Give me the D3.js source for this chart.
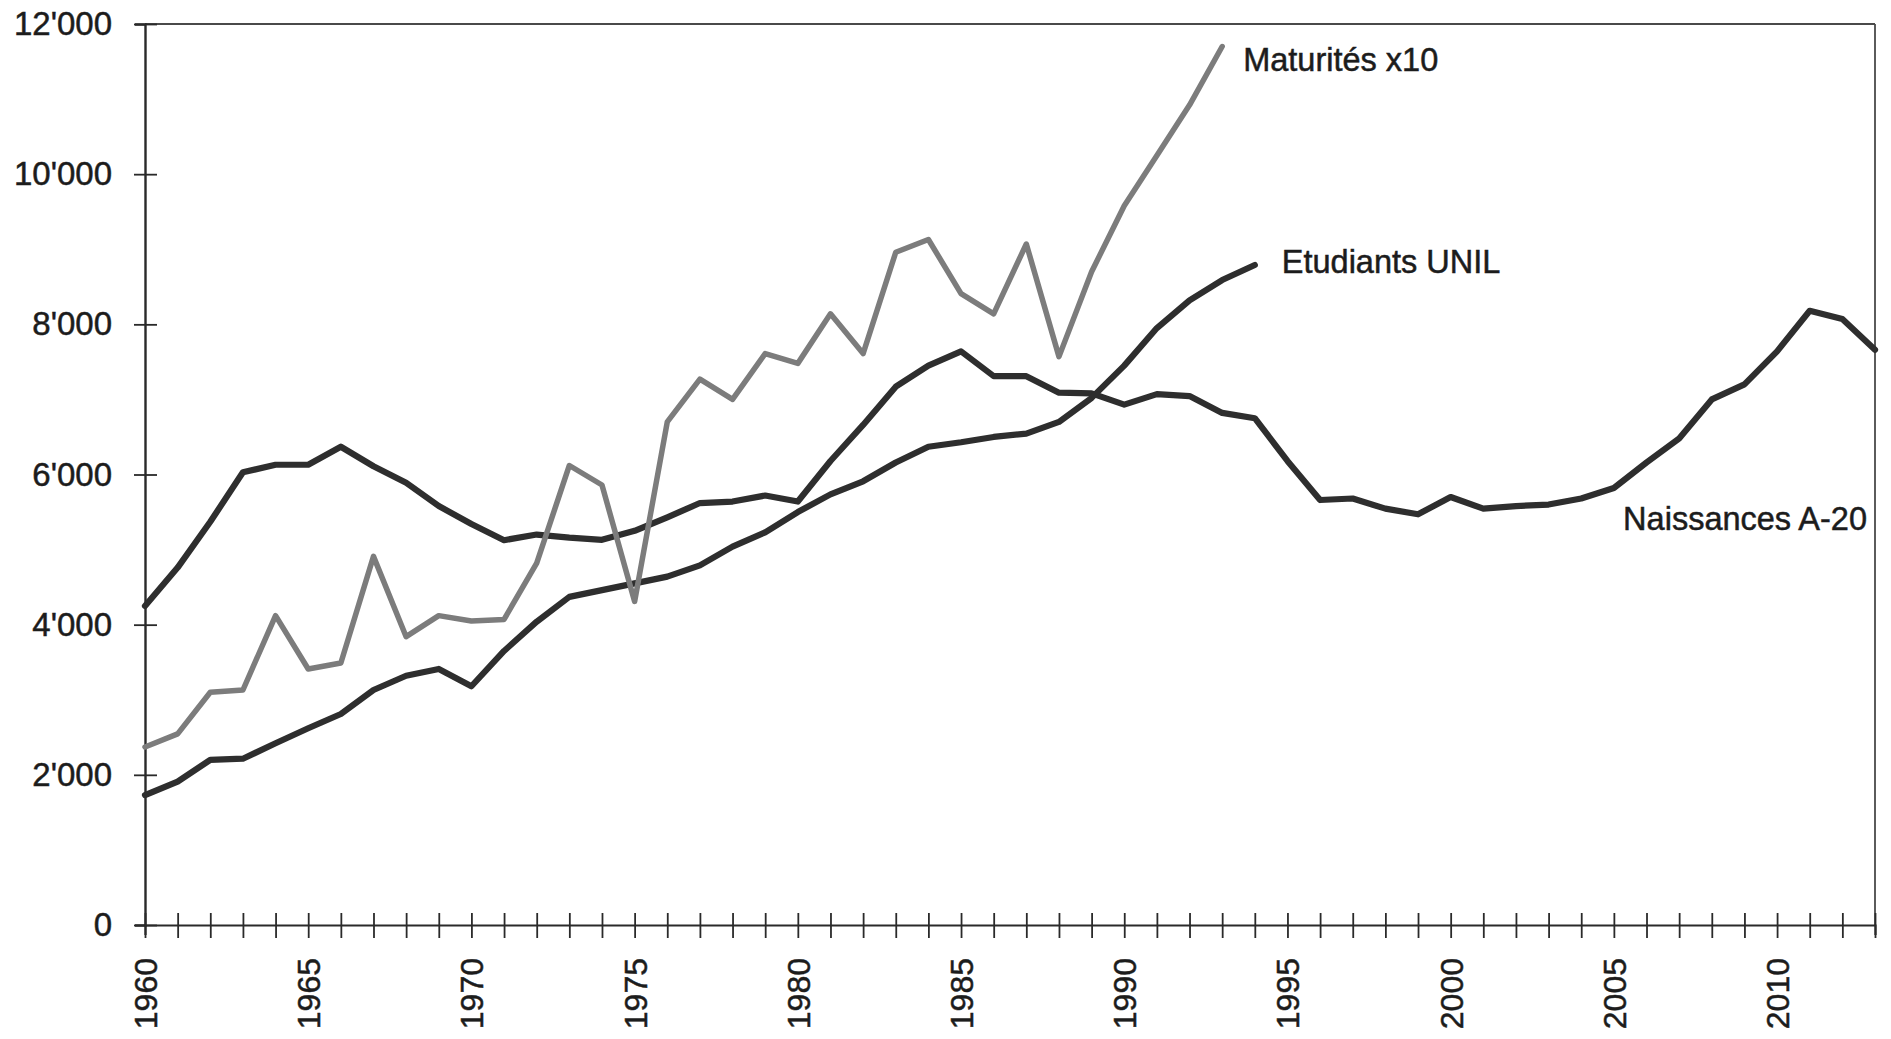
<!DOCTYPE html>
<html>
<head>
<meta charset="utf-8">
<script src="https://cdn.jsdelivr.net/npm/d3@7"></script>
<style>
  html, body { margin: 0; padding: 0; background: #ffffff; }
  svg { display: block; }
  text { font-family: "Liberation Sans", Arial, Helvetica, sans-serif; fill: #1c1c1c; }
</style>
</head>
<body>
<svg id="chart" width="1891" height="1039"></svg>
<script>
// ---------- data ----------
const years = [1960,1961,1962,1963,1964,1965,1966,1967,1968,1969,
               1970,1971,1972,1973,1974,1975,1976,1977,1978,1979,
               1980,1981,1982,1983,1984,1985,1986,1987,1988,1989,
               1990,1991,1992,1993,1994,1995,1996,1997,1998,1999,
               2000,2001,2002,2003,2004,2005,2006,2007,2008,2009,
               2010,2011,2012,2013];

// Naissances A-20 (1960–2013)
const naissances = [4250,4760,5370,6030,6130,6130,6370,6110,5890,5580,
                    5340,5125,5200,5160,5130,5250,5430,5620,5640,5720,
                    5640,6180,6660,7170,7450,7640,7310,7310,7090,7080,
                    6930,7070,7045,6820,6750,6180,5660,5680,5545,5470,
                    5700,5545,5580,5600,5680,5820,6160,6480,7000,7200,
                    7640,8180,8070,7660];

// Etudiants UNIL (1960–1994)
const etudiants = [1730,1910,2200,2215,2420,2620,2810,3130,3320,3410,
                   3180,3650,4040,4370,4460,4550,4640,4790,5040,5230,
                   5500,5735,5910,6160,6370,6430,6500,6545,6700,7020,
                   7450,7950,8320,8590,8790];

// Maturités x10 (1960–1993)
const maturites = [2370,2545,3100,3130,4120,3410,3490,4910,3840,4120,
                   4050,4070,4820,6120,5860,4310,6700,7270,7000,7610,
                   7480,8140,7610,8960,9130,8410,8140,9070,7570,8700,
                   9580,10250,10920,11700];

const yTicks = [0,2000,4000,6000,8000,10000,12000];
const xLabelYears = [1960,1965,1970,1975,1980,1985,1990,1995,2000,2005,2010];
const seriesLabels = ["Maturités x10", "Etudiants UNIL", "Naissances A-20"];

// ---------- layout ----------
const svg = d3.select("#chart");
const x = d3.scaleLinear().domain([1960, 2013]).range([145, 1875]);
const y = d3.scaleLinear().domain([0, 12000]).range([925, 24]);

const loc = d3.formatLocale({decimal: ".", thousands: "'", grouping: [3], currency: ["", ""]});
const fmt = loc.format(",");
const FONT = "'Liberation Sans', Arial, Helvetica, sans-serif";

// frame (top and right)
svg.append("line").attr("x1", x(1960)).attr("x2", x(2013)).attr("y1", y(12000)).attr("y2", y(12000))
   .attr("stroke", "#4a4a4a").attr("stroke-width", 1.8);
svg.append("line").attr("x1", x(2013)).attr("x2", x(2013)).attr("y1", y(12000)).attr("y2", y(0))
   .attr("stroke", "#4a4a4a").attr("stroke-width", 1.8);

// y axis
const yAxis = svg.append("g").attr("transform", `translate(${x(1960)},0)`)
  .call(d3.axisLeft(y).tickValues(yTicks).tickFormat(fmt).tickSize(10).tickPadding(23));
yAxis.select(".domain").attr("stroke", "#2a2a2a").attr("stroke-width", 2.4);
yAxis.selectAll(".tick line").attr("x1", -11).attr("x2", 12).attr("stroke", "#2a2a2a").attr("stroke-width", 1.8);
yAxis.selectAll(".tick text").style("font-size", "33px").attr("fill", "#1c1c1c")
  .attr("stroke", "#1c1c1c").attr("stroke-width", 0.5)
  .style("font-family", FONT);

// x axis
const xAxis = svg.append("g").attr("transform", `translate(0,${y(0)})`)
  .call(d3.axisBottom(x).tickValues(years).tickSize(10)
        .tickFormat(d => xLabelYears.includes(d) ? String(d) : ""));
xAxis.select(".domain").attr("stroke", "#2a2a2a").attr("stroke-width", 2.2);
xAxis.selectAll(".tick line").attr("y1", -12).attr("y2", 13).attr("stroke", "#2a2a2a").attr("stroke-width", 1.8);
xAxis.selectAll(".tick text")
  .style("font-size", "32px").attr("fill", "#1c1c1c")
  .attr("stroke", "#1c1c1c").attr("stroke-width", 0.5)
  .style("font-family", FONT)
  .attr("text-anchor", "end")
  .attr("transform", "rotate(-90)")
  .attr("x", -33).attr("y", 0).attr("dy", "0.36em");

// lines
const line = d3.line().x(d => x(d[0])).y(d => y(d[1]));
const pairs = vals => vals.map((v, i) => [years[i], v]);

svg.append("path").datum(pairs(naissances)).attr("d", line)
  .attr("fill", "none").attr("stroke", "#2e2e2e").attr("stroke-width", 6.2)
  .attr("stroke-linejoin", "round").attr("stroke-linecap", "round");
svg.append("path").datum(pairs(etudiants)).attr("d", line)
  .attr("fill", "none").attr("stroke", "#2e2e2e").attr("stroke-width", 6.2)
  .attr("stroke-linejoin", "round").attr("stroke-linecap", "round");
svg.append("path").datum(pairs(maturites)).attr("d", line)
  .attr("fill", "none").attr("stroke", "#7c7c7c").attr("stroke-width", 5.5)
  .attr("stroke-linejoin", "round").attr("stroke-linecap", "round");

// series labels
const lab = svg.append("g").style("font-size", "32.5px").attr("fill", "#1c1c1c")
  .attr("stroke", "#1c1c1c").attr("stroke-width", 0.5);
lab.append("text").attr("x", x(1993) + 21).attr("y", 71).text(seriesLabels[0]);
lab.append("text").attr("x", x(1994) + 27).attr("y", 273).text(seriesLabels[1]);
lab.append("text").attr("x", x(2013) - 8).attr("y", 530)
  .attr("text-anchor", "end").text(seriesLabels[2]);
</script>
</body>
</html>
